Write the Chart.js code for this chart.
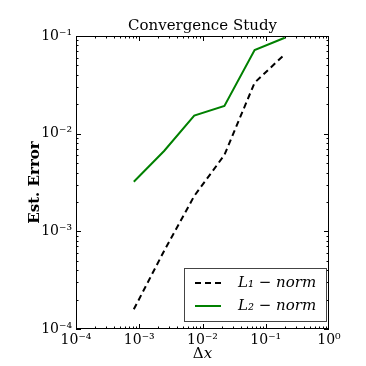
<!DOCTYPE html>
<html>
<head>
<meta charset="utf-8">
<script src="https://cdn.jsdelivr.net/npm/chart.js@4"></script>
<style>
  html, body { margin: 0; padding: 0; background: #fff; }
  #wrap { width: 366px; height: 366px; }
</style>
</head>
<body>
<div id="wrap"><canvas id="conv"></canvas></div>
<script>
// grid spacing and the two error norms
const dx = [8.2e-4, 2.47e-3, 7.4e-3, 0.0222, 0.0667, 0.2];
const l1Err = [1.59e-4, 6.3e-4, 2.3e-3, 6.05e-3, 0.0333, 0.065];
const l2Err = [3.22e-3, 6.65e-3, 0.0153, 0.0192, 0.0719, 0.096];
const seriesNames = ['L\u2081 \u2212 norm', 'L\u2082 \u2212 norm'];
const xDecades = [1e-4, 1e-3, 1e-2, 1e-1, 1];
const yDecades = [1e-4, 1e-3, 1e-2, 1e-1];

const serif = '"DejaVu Serif", "Liberation Serif", serif';
const sup = {'-': '\u207B', '0': '\u2070', '1': '\u00B9', '2': '\u00B2', '3': '\u00B3', '4': '\u2074'};
function powLabel(v) {
    const e = Math.round(Math.log10(v));
    return '10' + String(e).split('').map(c => sup[c]).join('');
}

// frame, inward ticks on all four sides, title, x label, legend box
const frame = {
    id: 'frame',
    afterDatasetsDraw(chart) {
        const ctx = chart.ctx;
        const a = chart.chartArea;
        const xs = chart.scales.x, ys = chart.scales.y;
        ctx.save();
        ctx.strokeStyle = '#000';
        ctx.lineWidth = 1;
        ctx.strokeRect(Math.round(a.left) + 0.5, Math.round(a.top) + 0.5,
            Math.round(a.width) - 1, Math.round(a.height) - 1);
        ctx.beginPath();
        for (let e = -4; e < 0; e++) {
            for (let m = 1; m <= 9; m++) {
                const v = m * Math.pow(10, e);
                const px = Math.round(xs.getPixelForValue(v)) + 0.5;
                const len = m === 1 ? 5 : 2.5;
                ctx.moveTo(px, a.bottom); ctx.lineTo(px, a.bottom - len);
                ctx.moveTo(px, a.top); ctx.lineTo(px, a.top + len);
            }
        }
        for (let e = -4; e < -1; e++) {
            for (let m = 1; m <= 9; m++) {
                const v = m * Math.pow(10, e);
                const py = Math.round(ys.getPixelForValue(v)) + 0.5;
                const len = m === 1 ? 5 : 2.5;
                ctx.moveTo(a.left, py); ctx.lineTo(a.left + len, py);
                ctx.moveTo(a.right, py); ctx.lineTo(a.right - len, py);
            }
        }
        ctx.stroke();

        const cx = (a.left + a.right) / 2;
        ctx.fillStyle = '#000';
        ctx.textBaseline = 'alphabetic';
        ctx.textAlign = 'center';
        ctx.font = '15px ' + serif;
        ctx.fillText('Convergence Study', cx, 30);

        // Δx with italic x
        ctx.textAlign = 'left';
        const wD = ctx.measureText('\u0394').width;
        ctx.font = 'italic 15px ' + serif;
        const wX = ctx.measureText('x').width;
        const x0 = cx - (wD + wX) / 2;
        ctx.font = '15px ' + serif;
        ctx.fillText('\u0394', x0, 358);
        ctx.font = 'italic 15px ' + serif;
        ctx.fillText('x', x0 + wD, 358);

        // legend, lower right
        const bx = 184.5, by = 268.5, bw = 142, bh = 53;
        ctx.fillStyle = '#fff';
        ctx.fillRect(bx, by, bw, bh);
        ctx.strokeStyle = '#444';
        ctx.strokeRect(bx, by, bw, bh);
        const rows = [283, 306];
        chart.data.datasets.forEach((ds, i) => {
            ctx.beginPath();
            ctx.strokeStyle = ds.borderColor;
            ctx.lineWidth = ds.borderWidth;
            ctx.setLineDash(ds.borderDash || []);
            ctx.moveTo(195, rows[i]);
            ctx.lineTo(221, rows[i]);
            ctx.stroke();
            ctx.setLineDash([]);
            ctx.fillStyle = '#000';
            ctx.font = 'italic 15px ' + serif;
            ctx.textBaseline = 'middle';
            ctx.fillText(ds.label, 238, rows[i]);
        });
        ctx.restore();
    }
};

new Chart(document.getElementById('conv'), {
    type: 'line',
    data: {
        datasets: [{
            label: seriesNames[0],
            data: dx.map((x, i) => ({x: x, y: l1Err[i]})),
            borderColor: '#000',
            borderWidth: 2,
            borderDash: [6, 4],
            pointRadius: 0,
            fill: false
        }, {
            label: seriesNames[1],
            data: dx.map((x, i) => ({x: x, y: l2Err[i]})),
            borderColor: '#008000',
            borderWidth: 2,
            pointRadius: 0,
            fill: false
        }]
    },
    options: {
        responsive: true,
        maintainAspectRatio: false,
        animation: false,
        layout: { padding: { left: 0, right: 37, top: 36, bottom: 0 } },
        plugins: {
            legend: { display: false },
            tooltip: { enabled: false },
            title: { display: false }
        },
        scales: {
            x: {
                type: 'logarithmic',
                min: 1e-4,
                max: 1,
                afterFit: s => { s.height = 37; },
                afterBuildTicks: s => { s.ticks = xDecades.map(v => ({value: v})); },
                grid: { display: false, drawTicks: false },
                border: { display: false },
                ticks: {
                    color: '#000',
                    padding: 3,
                    maxRotation: 0,
                    autoSkip: false,
                    font: { family: serif, size: 14 },
                    callback: v => powLabel(v)
                }
            },
            y: {
                type: 'logarithmic',
                min: 1e-4,
                max: 1e-1,
                afterFit: s => { s.width = 76; },
                afterBuildTicks: s => { s.ticks = yDecades.map(v => ({value: v})); },
                grid: { display: false, drawTicks: false },
                border: { display: false },
                ticks: {
                    color: '#000',
                    padding: 4,
                    autoSkip: false,
                    font: { family: serif, size: 14 },
                    callback: v => powLabel(v)
                },
                title: {
                    display: true,
                    text: 'Est. Error',
                    color: '#000',
                    font: { family: serif, size: 15, weight: 'bold' },
                    padding: { top: 26, bottom: 0 }
                }
            }
        }
    },
    plugins: [frame]
});
</script>
</body>
</html>
